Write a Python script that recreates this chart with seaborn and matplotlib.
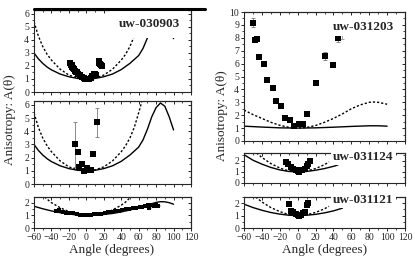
import matplotlib
matplotlib.use("Agg")
import matplotlib.pyplot as plt
import seaborn as sns
from matplotlib.ticker import MultipleLocator
from matplotlib.lines import Line2D

# =========================
# model curves
# =========================
# uw-030903 / uw-031124 left panels share the same curves
ang_top = [-60, -55, -50, -45, -40, -30, -20, -10, 0, 10, 20, 30, 40, 50, 60, 65, 70, 75, 80, 85, 90, 95, 100]
solid_top = [3.0, 2.55, 2.2, 1.92, 1.7, 1.38, 1.17, 1.04, 1.0, 1.04, 1.17, 1.38, 1.72, 2.2, 2.8, 3.35, 4.15, 5.1, 5.8, 6.15, 5.9, 5.1, 4.1]
ang_top_d = [-60, -55, -50, -45, -40, -30, -20, -10, 0, 10, 20, 30, 40, 45, 50, 55, 60, 65]
dash_top = [5.4, 4.3, 3.5, 2.9, 2.45, 1.75, 1.3, 1.07, 1.0, 1.07, 1.3, 1.75, 2.45, 2.9, 3.5, 4.3, 5.4, 6.6]

ang_low = [-60, -50, -40, -30, -20, -10, 0, 10, 20, 30, 40, 50, 60, 70, 80, 85, 90, 95, 100]
solid_low = [1.72, 1.52, 1.35, 1.21, 1.1, 1.03, 1.0, 1.02, 1.07, 1.15, 1.27, 1.42, 1.6, 1.82, 2.02, 2.08, 2.07, 2.0, 1.88]
ang_low_d = [-48, -40, -30, -20, -10, 0, 10, 20, 30, 40, 45, 51]
dash_low = [2.45, 2.0, 1.6, 1.3, 1.08, 1.0, 1.05, 1.18, 1.42, 1.8, 2.05, 2.45]

ang_r1 = [-60, -40, -20, 0, 20, 40, 60, 80, 90, 100]
solid_r1 = [1.15, 1.08, 1.02, 1.0, 1.02, 1.07, 1.13, 1.18, 1.18, 1.15]
ang_r1_d = [-60, -50, -40, -30, -20, -10, 0, 10, 20, 30, 40, 50, 60, 70, 80, 85, 90, 100]
dash_r1 = [2.4, 2.05, 1.75, 1.45, 1.22, 1.06, 1.0, 1.05, 1.2, 1.45, 1.75, 2.1, 2.5, 2.8, 3.0, 3.02, 3.0, 2.85]

ang_r2 = [-60, -50, -40, -30, -20, -10, 0, 10, 20, 30, 40, 45]
solid_r2 = [2.55, 2.05, 1.7, 1.4, 1.18, 1.04, 1.0, 1.04, 1.15, 1.3, 1.5, 1.62]
ang_r2_d = [-46, -40, -30, -20, -10, 0, 10, 20, 30, 35]
dash_r2 = [2.7, 2.3, 1.75, 1.35, 1.08, 1.0, 1.08, 1.3, 1.65, 1.9]

ang_r3 = [-60, -50, -40, -30, -20, -10, 0, 10, 20, 30, 40, 50]
solid_r3 = [1.92, 1.65, 1.43, 1.25, 1.12, 1.03, 1.0, 1.03, 1.1, 1.22, 1.38, 1.6]
ang_r3_d = [-47, -40, -30, -20, -10, 0, 10, 20, 30, 35]
dash_r3 = [2.5, 2.1, 1.65, 1.32, 1.08, 1.0, 1.07, 1.25, 1.55, 1.75]

# =========================
# measured points
# =========================
x_030903 = [-19, -18, -17, -16, -15, -14, -13, -12, -11, -9, -7, -5, -3, -1, 1, 3, 5, 7, 9, 10, 11, 14, 15, 16, 17, 18]
y_030903 = [2.2, 2.1, 2.05, 1.95, 1.85, 1.75, 1.65, 1.55, 1.5, 1.4, 1.3, 1.15, 1.05, 0.98, 0.97, 1.02, 1.1, 1.25, 1.35, 1.4, 1.3, 2.35, 2.25, 2.15, 2.05, 2.0]

x_mid = [-13, -10, -8, -5, -2.5, 0.5, 2.5, 5.5, 7.5, 12.5]
y_mid = [3.0, 2.4, 1.3, 1.5, 1.0, 1.22, 1.08, 1.06, 2.3, 4.7]
e_mid = [1.7, 0.1, 0.05, 0.05, 0.05, 0.05, 0.05, 0.05, 0.1, 1.1]

x_low = [-35, -31, -27, -23, -19, -15, -11, -7, -3, 1, 5, 9, 13, 17, 21, 25, 29, 33, 37, 41, 45, 49, 53, 57, 61, 64, 67, 69, 71, 72, 74, 76, 78, 80, 82]
y_low = [1.35, 1.42, 1.3, 1.22, 1.18, 1.15, 1.08, 1.05, 1.04, 1.04, 1.05, 1.07, 1.1, 1.14, 1.2, 1.25, 1.28, 1.32, 1.38, 1.42, 1.47, 1.52, 1.58, 1.62, 1.66, 1.68, 1.7, 1.74, 1.78, 1.6, 1.85, 1.8, 1.77, 1.8, 1.75]

x_031203 = [-50, -48, -46, -43, -38, -34, -28, -24, -19, -14, -9, -4, 1, 6, 10, 20, 30, 40, 45]
y_031203 = [9.15, 7.8, 7.9, 6.5, 6.0, 4.75, 4.1, 3.1, 2.75, 1.8, 1.6, 1.15, 1.3, 1.3, 2.1, 4.5, 6.6, 5.9, 8.0]
e_031203 = [0.35, 0.1, 0.1, 0.15, 0.05, 0.05, 0.05, 0.05, 0.05, 0.05, 0.05, 0.05, 0.05, 0.05, 0.05, 0.05, 0.3, 0.15, 0.3]

x_031124 = [-13, -11, -8, -5, -2, 0, 2, 5, 8, 10, 12, 14]
y_031124 = [1.85, 1.75, 1.45, 1.3, 1.2, 1.05, 1.0, 1.15, 1.3, 1.5, 1.7, 1.95]

x_031121 = [-10, -7, -5, -2, 0, 2, 4, 6, 8, 10, 12]
y_031121 = [1.95, 1.4, 1.3, 1.15, 1.05, 0.95, 1.05, 1.2, 1.3, 1.85, 2.05]

# =========================
# estilo
# =========================
sns.set_style("ticks")
plt.rcParams["font.family"] = ["Liberation Serif", "DejaVu Serif"]

fig = plt.figure(figsize=(4.15, 2.63), dpi=100)

W, H = 415, 263


def make_axes(x0, x1, ytop, ybot):
    return fig.add_axes([x0 / W, 1 - ybot / H, (x1 - x0) / W, (ybot - ytop) / H])


ax_l1 = make_axes(34, 191, 10, 92)
ax_l2 = make_axes(34, 191, 101, 184)
ax_l3 = make_axes(34, 191, 197, 228)
ax_r1 = make_axes(244, 405, 12, 141)
ax_r2 = make_axes(244, 405, 153, 183)
ax_r3 = make_axes(244, 405, 197, 228)


def curves(ax, xs, ys, xd, yd):
    sns.lineplot(x=xs, y=ys, color="black", linewidth=1.0, ax=ax)
    sns.lineplot(x=xd, y=yd, color="black", linewidth=1.0, ax=ax,
                 dashes=False, linestyle=(0, (1.6, 1.4)))


def points(ax, xp, yp, err=None, size=14):
    if err is not None:
        ax.errorbar(xp, yp, yerr=err, fmt="none", ecolor="#777777",
                    elinewidth=0.6, capsize=1.5, capthick=0.6, zorder=3)
    sns.scatterplot(x=xp, y=yp, marker="s", s=size, color="black",
                    edgecolor="black", linewidth=0, ax=ax, zorder=4)


def setup(ax, ymax, label=None, lx=0.95, ly=0.85, xlabels=False, pad=1.5):
    ax.set_xlim(-60, 120)
    ax.set_ylim(0, ymax)
    ax.xaxis.set_major_locator(MultipleLocator(20))
    ax.xaxis.set_minor_locator(MultipleLocator(10))
    ax.yaxis.set_major_locator(MultipleLocator(1))
    ax.yaxis.set_minor_locator(MultipleLocator(0.5))
    ax.tick_params(axis="both", which="major", direction="out", length=2.5,
                   width=0.7, labelsize=7, pad=1)
    ax.tick_params(axis="both", which="minor", direction="out", length=1.5, width=0.6)
    if not xlabels:
        ax.tick_params(axis="x", labelbottom=False)
    for s in ax.spines.values():
        s.set_linewidth(0.8)
    sec_y = ax.secondary_yaxis("right")
    sec_y.yaxis.set_major_locator(MultipleLocator(1))
    sec_y.yaxis.set_minor_locator(MultipleLocator(0.5))
    sec_y.tick_params(which="major", direction="in", length=2.5, width=0.7, labelright=False)
    sec_y.tick_params(which="minor", direction="in", length=1.5, width=0.6)
    sec_x = ax.secondary_xaxis("top")
    sec_x.xaxis.set_major_locator(MultipleLocator(20))
    sec_x.xaxis.set_minor_locator(MultipleLocator(10))
    sec_x.tick_params(which="major", direction="in", length=2.5, width=0.7, labeltop=False)
    sec_x.tick_params(which="minor", direction="in", length=1.5, width=0.6)
    ax.set_xlabel("")
    ax.set_ylabel("")
    if label:
        ax.text(lx, ly, label, transform=ax.transAxes, ha="right", va="center",
                fontsize=9.5, fontweight="bold", zorder=6,
                bbox=dict(facecolor="white", edgecolor="none", pad=pad))


# =========================
# coluna esquerda
# =========================
curves(ax_l1, ang_top, solid_top, ang_top_d, dash_top)
points(ax_l1, x_030903, y_030903, size=16)
setup(ax_l1, 6.3, "uw-030903", lx=0.93, ly=0.83, pad=6)

curves(ax_l2, ang_top, solid_top, ang_top_d, dash_top)
points(ax_l2, x_mid, y_mid, err=e_mid, size=14)
setup(ax_l2, 6.3)

curves(ax_l3, ang_low, solid_low, ang_low_d, dash_low)
points(ax_l3, x_low, y_low, err=[0.04] * len(x_low), size=10)
setup(ax_l3, 2.45, xlabels=True)

# =========================
# coluna direita
# =========================
curves(ax_r1, ang_r1, solid_r1, ang_r1_d, dash_r1)
points(ax_r1, x_031203, y_031203, err=e_031203, size=16)
ax_r1.errorbar([50], [8.15], yerr=[0.25], fmt="none", ecolor="#999999",
               elinewidth=0.6, capsize=1.5, capthick=0.6)
setup(ax_r1, 10, "uw-031203", lx=0.93, ly=0.88)

curves(ax_r2, ang_r2, solid_r2, ang_r2_d, dash_r2)
points(ax_r2, x_031124, y_031124, size=16)
setup(ax_r2, 2.7, "uw-031124", lx=0.93, ly=0.87)

curves(ax_r3, ang_r3, solid_r3, ang_r3_d, dash_r3)
points(ax_r3, x_031121, y_031121, size=16)
setup(ax_r3, 2.5, "uw-031121", lx=0.93, ly=0.9, xlabels=True)

# thick rule above the top-left panel
fig.add_artist(Line2D([34 / W, 205 / W], [1 - 9 / H, 1 - 9 / H],
                      transform=fig.transFigure, color="black", linewidth=2.2))

# axis titles
fig.text(112 / W, 1 - 250 / H, "Angle (degrees)", ha="center", va="center", fontsize=9.5)
fig.text(325 / W, 1 - 250 / H, "Angle (degrees)", ha="center", va="center", fontsize=9.5)
fig.text(10 / W, 1 - 120 / H, "Anisotropy: A(θ)", rotation=90, ha="center", va="center", fontsize=9.5)
fig.text(222 / W, 1 - 116 / H, "Anisotropy: A(θ)", rotation=90, ha="center", va="center", fontsize=9.5)

fig.savefig("out.png", dpi=100)
